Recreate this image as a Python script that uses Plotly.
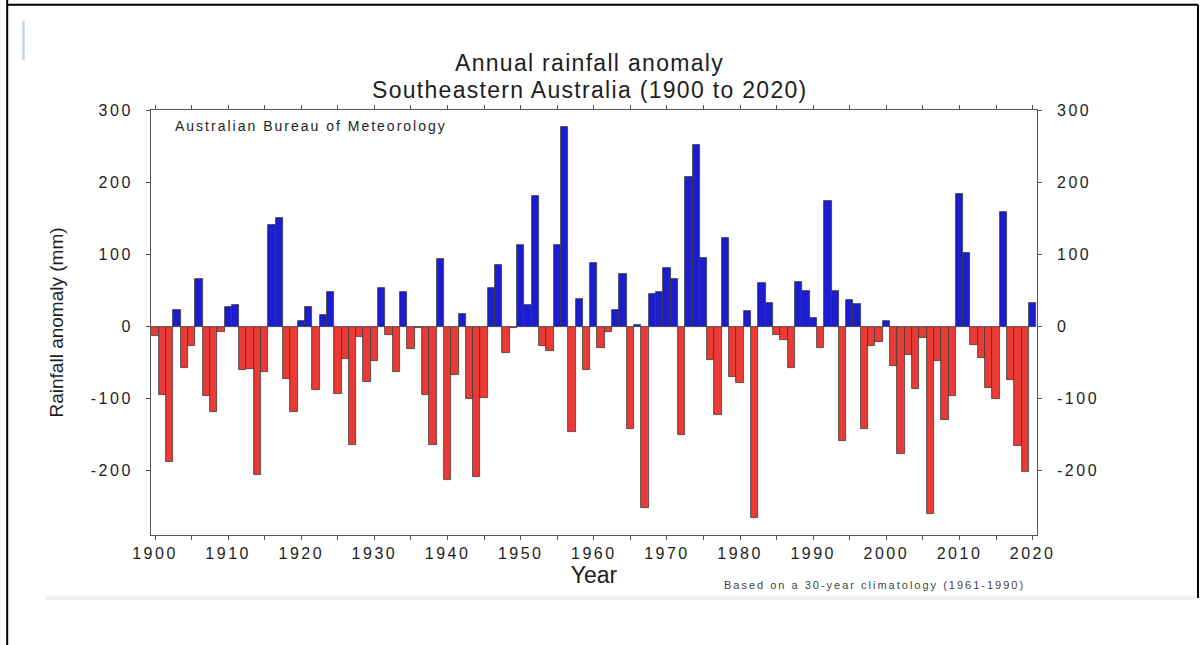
import plotly.graph_objects as go

# Annual rainfall anomaly (mm), Southeastern Australia, 1900-2020
years = list(range(1900, 2021))
anomaly = [
    -13, -94, -188, 24, -57, -27, 67, -96, -118, -7,      # 1900s
    27, 30, -60, -58, -206, -63, 141, 151, -72, -118,     # 1910s
    8, 27, -88, 16, 49, -93, -45, -164, -14, -76,         # 1920s
    -48, 54, -12, -63, 48, -31, -1, -94, -164, 94,        # 1930s
    -212, -67, 18, -100, -209, -99, 54, 86, -37, -2,      # 1940s
    113, 30, 182, -26, -34, 113, 277, -146, 39, -60,      # 1950s
    88, -29, -7, 24, 73, -142, 2, -251, 46, 48,           # 1960s
    81, 67, -150, 208, 252, 96, -46, -123, 124, -70,      # 1970s
    -78, 22, -265, 61, 33, -12, -18, -57, 62, 50,         # 1980s
    12, -29, 175, 50, -158, 37, 32, -142, -27, -21,       # 1990s
    8, -55, -177, -39, -86, -15, -260, -48, -129, -96,    # 2000s
    184, 102, -25, -43, -85, -100, 159, -74, -166, -202,  # 2010s
    33,                                                   # 2020
]

x_tick_vals = list(range(1900, 2021, 5))
y_tick_vals = [-200, -100, 0, 100, 200, 300]


def spaced(text, px):
    """Wrap text in a span with extra letter spacing."""
    return f'<span style="letter-spacing:{px}px">{text}</span>'


x_tick_text = [spaced(str(v), 2.5) if v % 10 == 0 else "" for v in x_tick_vals]
y_tick_text = [spaced(str(v), 2.5) for v in y_tick_vals]

BLUE = "#1c1cd0"
RED = "#ea3a35"
colors = [BLUE if v >= 0 else RED for v in anomaly]

FONT = "Liberation Sans, Arial, sans-serif"
INK = "#1e1e1e"

fig = go.Figure()
fig.add_trace(go.Bar(
    x=years, y=anomaly, width=1.0,
    marker=dict(color=colors, line=dict(color="#3c3c3c", width=0.8)),
    showlegend=False,
))
# invisible companion trace so the right-hand axis is drawn
fig.add_trace(go.Scatter(
    x=[years[0]], y=[anomaly[0]], yaxis="y2", mode="markers",
    marker=dict(opacity=0), hoverinfo="skip", showlegend=False,
))

y_range = [-289, 301]
axis_common = dict(
    showline=True, linecolor="#555555", linewidth=1,
    ticks="outside", ticklen=4, tickcolor="#555555",
    showgrid=False, zeroline=False,
)

fig.update_layout(
    width=1201, height=645,
    margin=dict(l=151, r=164, t=110, b=110),
    paper_bgcolor="white", plot_bgcolor="white",
    bargap=0,
    xaxis=dict(
        range=[1899.45, 2020.6], tickvals=x_tick_vals, ticktext=x_tick_text,
        mirror="ticks", tickfont=dict(family=FONT, size=16, color=INK),
        title=dict(text="Year", font=dict(family=FONT, size=23, color=INK), standoff=0),
        **axis_common,
    ),
    yaxis=dict(
        range=y_range, tickvals=y_tick_vals, ticktext=y_tick_text, mirror="ticks",
        tickfont=dict(family=FONT, size=16, color=INK), ticklabelstandoff=10,
        title=dict(text="Rainfall anomaly (mm)", font=dict(family=FONT, size=19, color=INK), standoff=22),
        **axis_common,
    ),
    yaxis2=dict(
        range=y_range, tickvals=y_tick_vals, ticktext=y_tick_text, overlaying="y", side="right",
        tickfont=dict(family=FONT, size=16, color=INK),
        showline=False, ticks="", showgrid=False, zeroline=False, ticklabelstandoff=19,
    ),
)

# two-line title
fig.add_annotation(
    text=spaced("Annual rainfall anomaly", 1.3),
    xref="paper", yref="paper", x=0.495, y=1.0, xanchor="center", yanchor="middle",
    yshift=47, showarrow=False, font=dict(family=FONT, size=23, color=INK),
)
fig.add_annotation(
    text=spaced("Southeastern Australia (1900 to 2020)", 1.3),
    xref="paper", yref="paper", x=0.495, y=1.0, xanchor="center", yanchor="middle",
    yshift=20, showarrow=False, font=dict(family=FONT, size=23, color=INK),
)
fig.add_annotation(
    text=spaced("Australian Bureau of Meteorology", 2),
    xref="paper", yref="paper", x=0.025, y=0.985, xanchor="left", yanchor="top",
    showarrow=False, font=dict(family=FONT, size=14, color=INK),
)
fig.add_annotation(
    text=spaced("Based on a 30-year climatology (1961-1990)", 2),
    xref="paper", yref="paper", x=0.645, y=0, xanchor="left", yanchor="top",
    yshift=-42, showarrow=False, font=dict(family=FONT, size=11, color="#444444"),
)

# page frame, divider band and small side mark
fig.add_shape(type="line", xref="paper", yref="paper", x0=-0.1623, x1=-0.1623, y0=-0.26, y1=1.26,
              line=dict(color="black", width=2), layer="above")
fig.add_shape(type="line", xref="paper", yref="paper", x0=-0.1623, x1=1.1817, y0=1.2475, y1=1.2475,
              line=dict(color="black", width=2), layer="above")
fig.add_shape(type="line", xref="paper", yref="paper", x0=1.1817, x1=1.1817, y0=1.2475, y1=-0.148,
              line=dict(color="black", width=2), layer="above")
fig.add_shape(type="rect", xref="paper", yref="paper", x0=-0.1194, x1=1.1794, y0=-0.153, y1=-0.143,
              line=dict(width=0), fillcolor="#f0f0f0", layer="below")
fig.add_shape(type="rect", xref="paper", yref="paper", x0=-0.1455, x1=-0.1425, y0=1.117, y1=1.21,
              line=dict(width=0), fillcolor="#c9d5e2", layer="below")

fig.write_html("out.html")
